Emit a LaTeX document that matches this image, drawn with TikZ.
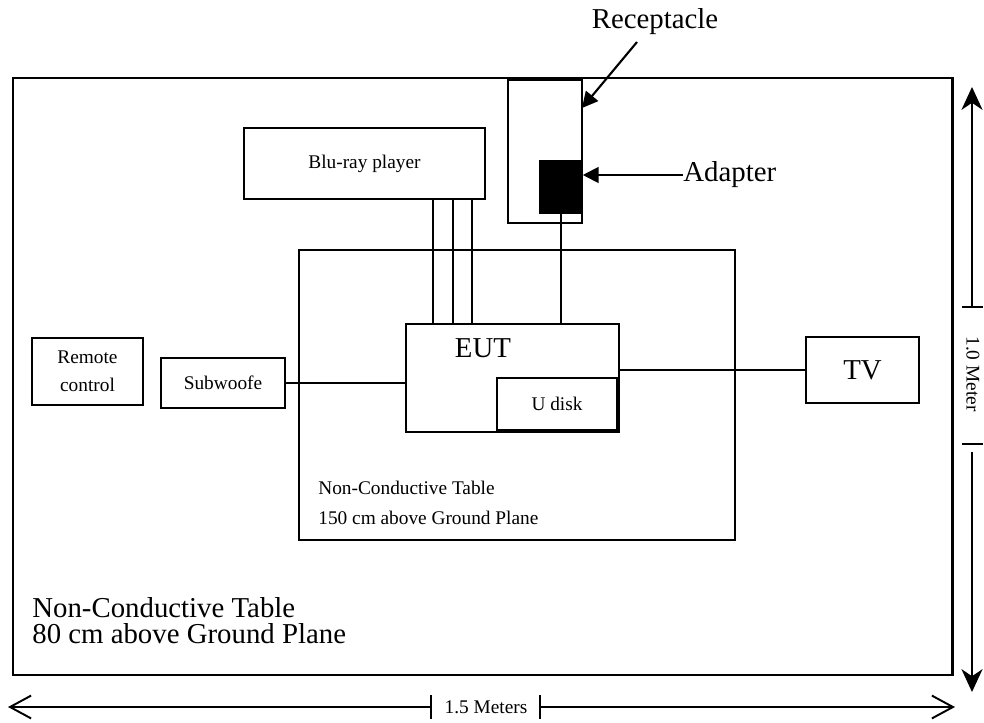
\documentclass[tikz,border=0pt]{standalone}
\usepackage{fontspec}
\setmainfont{Liberation Serif}
\usetikzlibrary{arrows.meta,positioning}
\newcommand{\lbl}{\fontsize{16.4}{19}\selectfont}
\newcommand{\sml}{\fontsize{11}{13}\selectfont}
\tikzset{
  unit/.style={draw, line width=0.9pt, inner sep=0pt, align=center, font=\sml},
  wire/.style={line width=1pt},
  note/.style={anchor=base west, inner sep=0pt},
  vdim/.style={line width=0.9pt, -{Stealth[length=13pt,width=12pt,inset=4pt]}},
  hdim/.style={line width=0.9pt, -{Straight Barb[length=12pt,width=13pt,line width=1.1pt]}},
  point/.style={line width=1.2pt, -{Triangle[length=9pt,width=9pt]}},
}
\begin{document}
\begin{tikzpicture}[x=0.02cm,y=-0.02cm]
\useasboundingbox (0,0) rectangle (984,723);
% the two tables
\draw[line width=1.7pt] (13,78) rectangle (952,675);
\draw[wire] (299,250) rectangle (735,540);
\node[note, font=\lbl] (bigtab) at (32,617) {Non-Conductive Table};
\node[note, font=\lbl] (bigh) at (32,643) {80 cm above Ground Plane};
\node[note, font=\sml] (tab) at (318,494) {Non-Conductive Table};
\node[note, font=\sml] (tabh) at (318,524) {150 cm above Ground Plane};
% units
\node[unit, minimum width=1.48cm, minimum height=2.86cm] (rec) at (545,151.5) {};
\node[unit, fill=black, minimum width=0.84cm, minimum height=1.04cm] (adp) at (561,187) {};
\node[unit, minimum width=4.82cm, minimum height=1.42cm] (blu) at (364.5,163.5) {Blu-ray player};
\node[unit, minimum width=4.26cm, minimum height=2.16cm] (eut) at (512.5,378) {};
\node[font=\lbl] (euttxt) at (483,348) {EUT};
\node[unit, minimum width=2.4cm, minimum height=1.04cm] (udisk) at (557,404) {U disk};
\node[unit, font=\lbl, minimum width=2.26cm, minimum height=1.32cm] (tv) at (862.5,370) {TV};
\node[unit, minimum width=2.48cm, minimum height=1.0cm] (sub) at (223,383) {Subwoofe};
\node[unit, minimum width=2.22cm, minimum height=1.34cm] (rc) at (87.5,371.5) {Remote\\[3pt]control};
% cables
\foreach \cx in {433,453,472} {
  \coordinate (c) at (\cx,0);
  \draw[wire] (blu.south -| c) -- (eut.north -| c);
}
\draw[wire] (adp.south) -- (adp.south |- eut.north);
\draw[wire] (sub.east) -- (sub.east -| eut.west);
\draw[wire] (tv.west) -- (tv.west -| eut.east);
% labels with pointers
\node[font=\lbl] (reclab) at (655,22) {Receptacle};
\coordinate (rtail) at (637,42);
\coordinate (rtip) at (582,108);
\draw[point] (rtail) -- (rtip);
\node[font=\lbl, anchor=west, inner sep=0pt] (adplab) at (683,175) {Adapter};
\draw[point] (adplab.west) -- (adp.east |- adplab.west);
% dimensions
\node[font=\sml, rotate=-90] (vlab) at (973,374) {1.0 Meter};
\coordinate (vtop) at (972,87);
\coordinate (vup) at (972,307);
\coordinate (vlow) at (972,444);
\coordinate (vbot) at (972,692);
\draw[wire] (vup) ++(-10,0) -- ++(21,0);
\draw[wire] (vlow) ++(-10,0) -- ++(21,0);
\draw[vdim] (vup) -- (vtop);
\draw[vdim] (vlow) ++(0,8) -- (vbot);
\node[font=\sml] (hlab) at (486,707) {1.5 Meters};
\coordinate (hleft) at (8,707);
\coordinate (hl) at (431,707);
\coordinate (hr) at (540,707);
\coordinate (hright) at (955,707);
\draw[wire] (hl) ++(0,-12) -- ++(0,24);
\draw[wire] (hr) ++(0,-12) -- ++(0,24);
\draw[hdim] (hl) -- (hleft);
\draw[hdim] (hr) -- (hright);
\end{tikzpicture}
\end{document}
